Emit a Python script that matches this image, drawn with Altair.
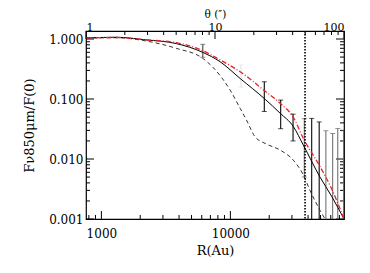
import altair as alt
import pandas as pd

# ---- model curves (R in AU, normalised flux) ----
R_solid = [760, 1300, 2200, 3800, 6100, 8300, 11900, 18600, 24300, 30700, 36800, 49500, 60900, 76000]
F_solid = [1.04, 1.07, 0.97, 0.84, 0.60, 0.42, 0.22, 0.099, 0.058, 0.035, 0.017, 0.0050, 0.0024, 0.0010]

R_red = [760, 1300, 2200, 3800, 6100, 8300, 11900, 18600, 24300, 30700, 36800, 49500, 60900, 76000]
F_red = [1.04, 1.06, 0.97, 0.87, 0.64, 0.45, 0.285, 0.135, 0.085, 0.050, 0.022, 0.0075, 0.0032, 0.0010]

R_dash = [760, 1300, 2200, 3800, 6100, 7400, 9950, 11900, 13300, 15500, 18600, 24300, 30700, 36800, 41400, 49500, 54200]
F_dash = [1.04, 1.05, 0.93, 0.70, 0.477, 0.33, 0.141, 0.07, 0.045, 0.0236, 0.0182, 0.0141, 0.0096, 0.0054, 0.0030, 0.0014, 0.0010]

# ---- observed points with error bars ----
R_pts = [6110, 12090, 18320, 24550, 30600, 37400, 42700, 48800, 55000, 62100, 68000, 75500]
F_pts = [0.656, 0.263, 0.128, 0.064, 0.038, 0.026, 0.024, 0.021, 0.015, 0.0135, 0.0163, 0.0150]
E_pts = [0.160, 0.106, 0.066, 0.032, 0.018, 0.021, 0.0235, 0.0205, 0.0146, 0.0131, 0.0159, 0.0146]
G_pts = ["dark", "light", "black", "black", "black", "gray", "black", "black", "gray", "gray", "gray", "gray"]

# ---- vertical marker ----
R_line = [37900]

# ---- axis tick values ----
X_major = [1000, 10000]
X_minor = [800, 900, 2000, 3000, 4000, 5000, 6000, 7000, 8000, 9000,
           20000, 30000, 40000, 50000, 60000, 70000]
Y_major = [0.001, 0.01, 0.1, 1.0]
Y_minor = [m * d for d in (0.001, 0.01, 0.1) for m in range(2, 10)]
T_major = [1, 10, 100]
T_minor = [2, 3, 4, 5, 6, 7, 8, 9, 20, 30, 40, 50, 60, 70, 80, 90]

W, H = 258, 188
FONT = "DejaVu Serif"

xscale = alt.Scale(type="log", domain=[760, 76000], nice=False)
yscale = alt.Scale(type="log", domain=[0.001, 1.36], nice=False)
xaxis = alt.Axis(values=X_major, format="d", ticks=False, domain=False, grid=False,
                 labelPadding=9, titlePadding=5, title="R(Au)")
yaxis = alt.Axis(values=Y_major, format=".3f", ticks=False, domain=False, grid=False,
                 labelPadding=3, titlePadding=12, title="Fν850μm/F(0)")


def xe(f):
    return alt.X(f"{f}:Q", scale=xscale, axis=xaxis)


def ye(f):
    return alt.Y(f"{f}:Q", scale=yscale, axis=yaxis)


df_solid = pd.DataFrame({"R": R_solid, "F": F_solid})
df_red = pd.DataFrame({"R": R_red, "F": F_red})
df_dash = pd.DataFrame({"R": R_dash, "F": F_dash})
df_pts = pd.DataFrame({"R": R_pts, "F": F_pts, "E": E_pts, "G": G_pts})
df_pts["hi"] = df_pts["F"] + df_pts["E"]
df_pts["lo"] = df_pts["F"] - df_pts["E"]
df_line = pd.DataFrame({"R": R_line})

solid = alt.Chart(df_solid).mark_line(color="black", strokeWidth=1, interpolate="monotone", clip=True).encode(
    x=xe("R"), y=ye("F"))
dash = alt.Chart(df_dash).mark_line(color="#333333", strokeWidth=1, strokeDash=[4, 3],
                                    interpolate="monotone", clip=True).encode(x=xe("R"), y=ye("F"))
red = alt.Chart(df_red).mark_line(color="#e8202a", strokeWidth=1.3, strokeDash=[5, 2, 1, 2],
                                  interpolate="monotone", clip=True).encode(x=xe("R"), y=ye("F"))

gcol = alt.Scale(domain=["dark", "light", "black", "gray"], range=["#555555", "#e4e4e4", "#000000", "#666666"])
gw = alt.Scale(domain=["dark", "light", "black", "gray"], range=[1.2, 1, 1.8, 2])
capcol = alt.Scale(domain=["dark", "light", "black", "gray"], range=["#555555", "#999999", "#000000", "#666666"])

bars = alt.Chart(df_pts).mark_rule(clip=True).encode(
    x=xe("R"), y=ye("hi"), y2="lo",
    color=alt.Color("G:N", scale=gcol, legend=None),
    strokeWidth=alt.StrokeWidth("G:N", scale=gw, legend=None))
cap_hi = alt.Chart(df_pts).mark_tick(orient="horizontal", size=5, thickness=1, clip=True).encode(
    x=xe("R"), y=ye("hi"), color=alt.Color("G:N", scale=capcol, legend=None))
cap_lo = alt.Chart(df_pts).mark_tick(orient="horizontal", size=5, thickness=1, clip=True).encode(
    x=xe("R"), y=ye("lo"), color=alt.Color("G:N", scale=capcol, legend=None))

vline = alt.Chart(df_line).mark_rule(color="black", strokeWidth=1.6, strokeDash=[1.5, 1.5]).encode(
    x=xe("R"))

df_xmaj = pd.DataFrame({"R": X_major})
df_xmin = pd.DataFrame({"R": X_minor})
df_ymaj = pd.DataFrame({"F": Y_major})
df_ymin = pd.DataFrame({"F": Y_minor})


def xticks(df, L):
    return alt.Chart(df).mark_rule(color="black", strokeWidth=1).encode(
        x=xe("R"), y=alt.value(H), y2=alt.value(H - L))


def yticks(df, L):
    left = alt.Chart(df).mark_rule(color="black", strokeWidth=1).encode(
        y=ye("F"), x=alt.value(0), x2=alt.value(L))
    right = alt.Chart(df).mark_rule(color="black", strokeWidth=1).encode(
        y=ye("F"), x=alt.value(W), x2=alt.value(W - L))
    return left + right


base = alt.layer(
    xticks(df_xmaj, 8), xticks(df_xmin, 4), yticks(df_ymaj, 8), yticks(df_ymin, 4),
    bars, cap_hi, cap_lo, dash, solid, red, vline,
)

tscale = alt.Scale(type="log", domain=[1, 100], nice=False)
taxis = alt.Axis(orient="top", values=T_major, format="d", ticks=False, domain=False, grid=False,
                 labelPadding=0.5, labelBaseline="alphabetic", labelFontSize=11,
                 titleY=-13.2, titleBaseline="alphabetic", titleFontSize=10.5,
                 title="θ (″)")
df_tmaj = pd.DataFrame({"T": T_major})
df_tmin = pd.DataFrame({"T": T_minor})
top_maj = alt.Chart(df_tmaj).mark_rule(color="black", strokeWidth=1).encode(
    x=alt.X("T:Q", scale=tscale, axis=taxis), y=alt.value(0), y2=alt.value(8))
top_min = alt.Chart(df_tmin).mark_rule(color="black", strokeWidth=1).encode(
    x=alt.X("T:Q", scale=tscale, axis=taxis), y=alt.value(0), y2=alt.value(4))
top = alt.layer(top_maj, top_min)

chart = alt.layer(base, top).resolve_scale(x="independent").properties(
    width=W, height=H,
    autosize=alt.AutoSizeParams(type="none"),
    padding={"left": 78, "top": 23, "right": 10, "bottom": 38},
).configure_view(
    stroke="black", strokeWidth=1.2
).configure_axis(
    labelFont=FONT, labelFontSize=12, labelColor="black",
    titleFont=FONT, titleFontSize=13, titleFontWeight="normal", titleColor="black",
)

chart.save("out.html", embed_options={"renderer": "svg", "actions": False})
